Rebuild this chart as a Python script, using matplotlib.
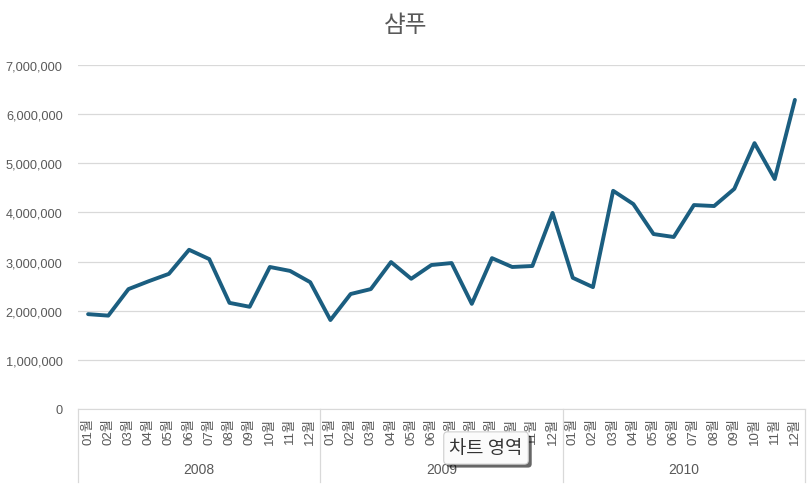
import matplotlib.pyplot as plt
import matplotlib.patheffects as pe
from matplotlib.ticker import FuncFormatter
import numpy as np

plt.rcParams['font.family'] = ['Liberation Sans', 'Noto Sans CJK KR', 'DejaVu Sans']

title = '샴푸'
years = ['2008', '2009', '2010']
months = ['01', '02', '03', '04', '05', '06', '07', '08', '09', '10', '11', '12']

# monthly sales
sales_2008 = [1930000, 1900000, 2440000, 2600000, 2750000, 3240000,
              3050000, 2160000, 2080000, 2890000, 2810000, 2580000]
sales_2009 = [1810000, 2340000, 2440000, 2990000, 2650000, 2930000,
              2970000, 2140000, 3070000, 2890000, 2910000, 3990000]
sales_2010 = [2670000, 2480000, 4440000, 4170000, 3560000, 3500000,
              4150000, 4130000, 4480000, 5410000, 4680000, 6290000]

values = sales_2008 + sales_2009 + sales_2010
labels = [m + '월' for _ in years for m in months]
x = np.arange(len(values))

grey = '#595959'
grid = '#d9d9d9'

fig = plt.figure(figsize=(8.12, 4.85), dpi=100)
ax = fig.add_axes([78 / 812, 1 - 410 / 485, (805 - 78) / 812, (410 - 66) / 485])

ax.plot(x, values, color='#1b5e80', linewidth=2.8, solid_capstyle='round', zorder=3)

ax.set_xlim(-0.5, len(values) - 0.5)
ax.set_ylim(0, 7000000)
ax.set_yticks(np.arange(0, 7000001, 1000000))
ax.yaxis.set_major_formatter(FuncFormatter(lambda v, p: f'{int(v):,}'))
ax.grid(axis='y', color=grid, linewidth=0.9)
ax.set_axisbelow(True)

for s in ['top', 'right', 'left']:
    ax.spines[s].set_visible(False)
ax.spines['bottom'].set_color(grid)

ax.set_xticks(x)
ax.set_xticklabels(labels, rotation=90, fontsize=9.5, color=grey)
ax.tick_params(axis='x', length=0, pad=6)
ax.tick_params(axis='y', length=0, pad=11, labelsize=9.2, labelcolor=grey)

# year group labels and separators
trans = ax.get_xaxis_transform()
for i, yr in enumerate(years):
    ax.text(i * 12 + 5.5, -0.175, yr, transform=trans, ha='center', va='center',
            fontsize=10, color=grey)
for b in [-0.5, 11.5, 23.5, 35.5]:
    ax.plot([b, b], [0, -0.213], transform=trans, color=grid, linewidth=0.9,
            clip_on=False)

fig.text(0.5, 1 - 26 / 485, title, ha='center', va='center', fontsize=17,
         color=grey, family=['Noto Sans CJK KR', 'DejaVu Sans'])

# tooltip overlay
tip = fig.text(486 / 812, 1 - 449 / 485, '차트 영역', ha='center', va='center',
               fontsize=13.5, color='#333333', family=['Noto Sans CJK KR', 'DejaVu Sans'],
               fontweight='light',
               bbox=dict(boxstyle='round,pad=0.3,rounding_size=0.2', fc='#fbfbfb',
                         ec='#cfcfcf', lw=0.8))
tip.get_bbox_patch().set_path_effects([
    pe.SimplePatchShadow(offset=(2.5, -2.5), shadow_rgbFace='black', alpha=0.6),
    pe.Normal()])

fig.savefig('out.png', dpi=100)
